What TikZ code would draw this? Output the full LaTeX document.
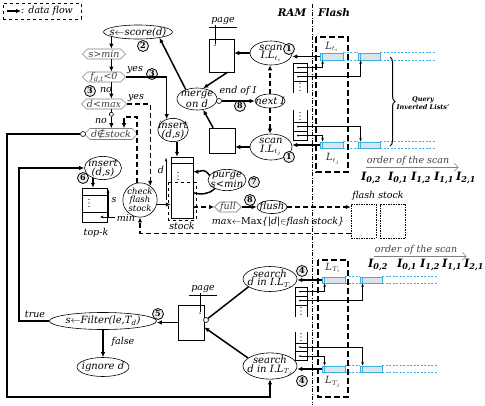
\documentclass[tikz,border=0pt]{standalone}
\usepackage{fontspec}
\setmainfont{DejaVu Serif}
\newfontfamily\symfont{DejaVu Sans}
\usetikzlibrary{arrows.meta,shapes.geometric,shapes.symbols,calc,decorations.pathreplacing}
\definecolor{qcyan}{RGB}{60,175,225}
\definecolor{qfill}{RGB}{218,228,234}
\begin{document}
\begin{tikzpicture}[x=1pt,y=-1pt,
  every node/.style={font=\itshape\fontsize{10}{8.5}\selectfont, inner sep=0pt},
  ell/.style={ellipse, draw, line width=0.6pt, align=center, inner xsep=-4pt, inner ysep=-0.5pt},
  hexa/.style={signal, signal to=west and east, draw=gray, line width=0.6pt, minimum height=10pt, text=black!75, inner xsep=0.5pt, font=\itshape\fontsize{9.5}{9.5}\selectfont},
  num/.style={circle, draw, line width=0.8pt, fill=gray!15, minimum size=11pt, font=\bfseries\fontsize{8}{8}\selectfont},
  box/.style={rectangle, draw, line width=0.5pt},
  flow/.style={line width=1.5pt, -{Latex[length=5pt,width=4.5pt]}},
  bare/.style={line width=1.5pt},
  dflow/.style={flow, dash pattern=on 5pt off 3pt},
  ptr/.style={line width=0.5pt, -{Stealth[length=3.5pt,width=2.5pt]}},
  dot/.style={circle, fill, minimum size=2pt},
  vd/.style={circle, fill, minimum size=1.3pt},
  jn/.style={circle, draw, fill=white, line width=0.6pt, minimum size=5pt},
  bar/.style={rectangle, draw=qcyan, fill=qfill, line width=0.8pt},
  qline/.style={qcyan, line width=0.6pt, dash pattern=on 2pt off 1.5pt},
  qtick/.style={qcyan, line width=0.6pt},
  fbox/.style={draw, line width=1.8pt, dash pattern=on 6pt off 3pt},
  lbl/.style={font=\itshape\fontsize{9.5}{9.5}\selectfont},
  Lbl/.style={font=\itshape\fontsize{10}{10}\selectfont, text=black!80},
  Ibl/.style={font=\bfseries\itshape\fontsize{11.5}{11.5}\selectfont},
  fstock/.style={draw, line width=0.5pt, dash pattern=on 1.5pt off 1pt, minimum width=25pt, minimum height=34pt},
  thinl/.style={line width=0.5pt},
]
\useasboundingbox (0,0) rectangle (485,405);

% legend
\node[draw, dashed, line width=0.6pt, minimum width=78pt, minimum height=16pt] (legend) at (42,11) {};
\coordinate (lga) at (7,11);
\coordinate (lgb) at (21,11);
\draw[flow] (lga) -- (lgb);
\node[anchor=west, font=\itshape\fontsize{9.5}{9.5}\selectfont] (lgt) at (21,11) {: data flow};

% RAM / Flash divider
\coordinate (divt) at (312,4);
\coordinate (divb) at (312,405);
\draw[line width=0.6pt, dash pattern=on 4pt off 1.5pt on 1pt off 1.5pt] (divt) -- (divb);
\node[font=\bfseries\itshape\fontsize{10.5}{10.5}\selectfont] (ram) at (292,13) {RAM};
\node[font=\bfseries\itshape\fontsize{10.5}{10.5}\selectfont] (flash) at (334,13) {Flash};

% ---------- scoring chain ----------
\node[ell, minimum width=61pt, minimum height=14pt] (score) at (138,32) {s$\leftarrow$score(d)};
\node[num] (n2) at (143,46) {2};
\node[hexa, minimum width=43pt] (smin) at (104,54) {s>min};
\node[hexa, minimum width=43pt] (fdt) at (104,77) {f\textsubscript{d,t}<0};
\node[hexa, minimum width=43pt] (dmax) at (104,104) {d<max};
\node[hexa, minimum width=53pt, minimum height=11pt] (dstock) at (111,134) {d{\symfont\upshape ∉}stock};
\node[jn] (dsc) at (83,134) {};
\node[lbl] (yes1) at (135,70) {yes};
\node[num] (n3a) at (152,74) {3};
\node[num] (n3b) at (90,91) {3};
\node[lbl] (no1) at (106,90) {no};
\node[lbl] (yes2) at (136,98) {yes};
\node[lbl] (no2) at (101,121) {no};

\node[ell, minimum width=29pt, minimum height=22pt] (insert1) at (173,130) {insert\\(d,s)};
\node[ell, minimum width=37pt, minimum height=23pt] (insert2) at (103,168) {insert\\(d,s)};
\node[num] (n6) at (83,178) {6};
\node[box, minimum width=25pt, minimum height=34pt] (topk) at (94.5,205) {};
\node[lbl] (topkl) at (96,233) {top-k};
\node[lbl] (sl) at (114,200) {s};
\node[lbl] (minl) at (126,218) {min};

\node[circle, draw, line width=0.6pt, minimum size=34pt, align=center, font=\itshape\fontsize{8.5}{7.5}\selectfont] (check) at (140,200) {check\\flash\\stock};
\node[box, minimum width=22pt, minimum height=61pt] (stock) at (182,187.5) {};
\node[lbl] (stockl) at (182,226) {stock};
\node[lbl] (dl) at (161,170) {d};

\node[ell, minimum width=38pt, minimum height=20pt] (purge) at (227,180) {purge\\s<min};
\node[num] (n7) at (254,182) {7};
\node[hexa, minimum width=25pt, minimum height=10pt] (full) at (228,207) {full};
\node[num] (n8b) at (250,200) {8};
\node[ell, minimum width=30pt, minimum height=13pt] (flush) at (272,207) {flush};
\node[fstock] (fs1) at (363.5,221) {};
\node[fstock] (fs2) at (393,221) {};
\node[lbl] (fsl) at (378,196) {flash stock};
\node[lbl] (maxl) at (278,222) {max$\leftarrow$\textup{Max}\{|d|$\in$flash stock\}};

% ---------- scan / merge ----------
\node[box, minimum width=25pt, minimum height=33pt] (page1) at (221.5,55.5) {};
\node[lbl] (pg1) at (223,21) {page};
\node[dot, minimum size=1.5pt] (pg1d) at (215,45) {};
\node[ell, minimum width=42pt, minimum height=24pt] (scan1) at (271,53) {scan\\I.L$_{t_i}$};
\node[num] (n1a) at (289,49) {1};
\node[ell, minimum width=40pt, minimum height=22pt] (merge) at (197,99) {merge\\on d};
\node[jn] (mc) at (219,101) {};
\node[lbl] (eoi) at (238,91) {end of I};
\node[num] (n8a) at (240,106) {8};
\node[ell, minimum width=30pt, minimum height=14pt] (next) at (270,101) {next I};
\node[ell, minimum width=42pt, minimum height=26pt] (scan2) at (271,147) {scan\\I.L$_{t_j}$};
\node[num] (n1b) at (289,157) {1};
\node[box, minimum width=26pt, minimum height=25pt] (page2) at (222,140.5) {};

% flash lists (top)
\node[bar, minimum width=23pt, minimum height=7pt] (b1a) at (331.5,56.5) {};
\node[bar, minimum width=22pt, minimum height=7pt] (b1b) at (369,56.5) {};
\node[bar, minimum width=23pt, minimum height=6pt] (b2a) at (331.5,145) {};
\node[bar, minimum width=22pt, minimum height=6pt] (b2b) at (369,145) {};
\node[Lbl] (lti) at (332,47) {L$_{t_i}$};
\node[Lbl] (ltj) at (333,159) {L$_{t_j}$};
\node[font=\bfseries\itshape\fontsize{6.5}{8}\selectfont, align=center] (qil) at (423,103) {Query\\Inverted Lists'};

% pointer arrays (top)
\node[dot] (p1a) at (298,67.5) {};
\node[dot] (p1b) at (298,76.5) {};
\node[dot] (p2a) at (298,126.5) {};
\node[dot] (p2b) at (298,135.5) {};

% scan order labels
\node[lbl, text=black!75] (ord1) at (408,161) {order of the scan};
\node[Ibl] (i1a) at (371,178) {I\textsubscript{0,2}};
\node[Ibl] (i1b) at (398,178) {I\textsubscript{0,1}};
\node[Ibl] (i1c) at (421,178) {I\textsubscript{1,2}};
\node[Ibl] (i1d) at (444,178) {I\textsubscript{1,1}};
\node[Ibl] (i1e) at (466,178) {I\textsubscript{2,1}};
\node[lbl, text=black!75] (ord2) at (416,250) {order of the scan};
\node[Ibl] (i2a) at (378,265) {I\textsubscript{0,2}};
\node[Ibl] (i2b) at (407,265) {I\textsubscript{0,1}};
\node[Ibl] (i2c) at (430,265) {I\textsubscript{1,2}};
\node[Ibl] (i2d) at (452,265) {I\textsubscript{1,1}};
\node[Ibl] (i2e) at (474,265) {I\textsubscript{2,1}};

% ---------- filtering ----------
\node[ell, minimum width=54pt, minimum height=25pt] (search1) at (270,279) {search\\d in I.L$_{T_i}$};
\node[num] (n4a) at (302,271) {4};
\node[ell, minimum width=54pt, minimum height=25pt] (search2) at (270,366) {search\\d in I.L$_{T_j}$};
\node[num] (n4b) at (302,381) {4};
\node[box, minimum width=26pt, minimum height=35pt] (page3) at (191,322.5) {};
\node[lbl] (pg3) at (203,289) {page};
\node[dot, minimum size=1.5pt] (pg3d) at (200,313) {};
\node[jn] (pc) at (206,320) {};
\node[ell, minimum width=107pt, minimum height=17pt] (filter) at (103,321) {s$\leftarrow$Filter(le,T\textsubscript{d})};
\node[num] (n5) at (158,314) {5};
\node[lbl] (truel) at (35,314) {true};
\node[lbl] (falsel) at (123,342) {false};
\node[ell, minimum width=52pt, minimum height=19pt] (ignore) at (103,367) {ignore d};

\node[bar, minimum width=23pt, minimum height=6pt] (b3a) at (333.5,280) {};
\node[bar, minimum width=22pt, minimum height=6pt] (b3b) at (371,280) {};
\node[bar, minimum width=23pt, minimum height=6pt] (b4a) at (333.5,369) {};
\node[bar, minimum width=22pt, minimum height=6pt] (b4b) at (371,369) {};
\node[Lbl] (lTi) at (333,268) {L$_{T_i}$};
\node[Lbl] (lTj) at (333,382) {L$_{T_j}$};
\node[dot] (p3a) at (300,291.5) {};
\node[dot] (p3b) at (300,300.5) {};
\node[dot] (p4a) at (300,347) {};
\node[dot] (p4b) at (300,356) {};

% vertical ellipsis marks in the arrays
\foreach \x/\y in {89/203,178/176,300/87,300/116,301/311,301/337}{
  \node[vd] at (\x,\y-3.5) {};
  \node[vd] at (\x,\y) {};
  \node[vd] at (\x,\y+3.5) {};
}

% ================= connectors =================
% scoring spine
\coordinate (spine) at (score.190);
\node[jn, minimum size=4pt] (dmj) at ($(spine |- dmax.south)+(0,5)$) {};
\draw[flow] (spine) -- (spine |- smin.north);
\draw[flow] (spine |- smin.south) -- (spine |- fdt.north);
\draw[flow] (spine |- fdt.south) -- (spine |- dmax.north);
\draw[bare] (spine |- dmax.south) -- (dmj);
\draw[flow] (dmj) -- (spine |- dstock.north);
\draw[flow] (fdt.east) -| (insert1.120);
\draw[dflow] (dmax.east) -| (check.54);
\coordinate (dsret) at (124,117);
\draw[dflow] (check.100) |- (dsret) -- (dsret |- dstock.north);

% loops round the left edge
\coordinate (loopA) at (7,397);
\draw[flow] (dsc.west) -| (loopA) -| (search2.south);
\coordinate (loopB) at (19,168);
\draw[flow] (filter.west) -| (loopB) -- (insert2.west);

% top-k
\draw[flow] (insert2.225) -- (insert2.225 |- topk.north);
\draw[thinl] ($(topk.north west)+(0,7)$) -- ($(topk.north east)+(0,7)$);
\draw[thinl] ($(topk.north west)+(0,24)$) -- ($(topk.north east)+(0,24)$);
\coordinate (sa0) at (108,217);
\coordinate (sa1) at (108,189);
\draw[ptr] (sa0) -- (sa1);
\coordinate (ma0) at (115,217);
\coordinate (ma1) at (100,217);
\draw[ptr] (ma0) -- (ma1);

% stock
\coordinate (ins1x) at (177,0);
\draw[flow] (ins1x |- insert1.south) -- (ins1x |- stock.north);
\draw[flow] (check.-15) -- (check.-15 -| stock.west);
\draw[thinl] ($(stock.north west)+(0,6)$) -- ($(stock.north east)+(0,6)$);
\draw[thinl, dashed] ($(stock.north west)+(-2.5,25.5)$) rectangle ($(stock.south east)+(2.5,1.5)$);
\coordinate (da0) at (166,200);
\coordinate (da1) at (166,158);
\draw[ptr] (da0) -- (da1);
\coordinate (stkin) at ($(stock.north east)+(0,15)$);
\coordinate (stkout) at ($(stock.north east)+(0,36)$);
\draw[flow] (purge.165) .. controls +(-6,-8) and +(8,0) .. (stkin);
\draw[bare] (stkout) .. controls +(8,2) and +(-6,6) .. (purge.215);
\draw[dflow] (full.west -| stock.east) -- (full.west);
\draw[flow] (full.east) -- (flush.west);
\draw[dflow] (flush.east) -- (flush.east -| fs1.west);
\coordinate (fbs) at ($(fs1.south west)+(0,-5)$);
\draw[dflow] (fbs) -| (check.south);

% scan and merge
\draw[thinl] ($(pg1.south west)+(-2,2)$) -- ($(pg1.south east)+(2,2)$);
\draw[thinl] (pg1d) -- (pg1d |- pg1.south);
\draw[flow] (scan1.west) -- (scan1.west -| page1.east);
\draw[flow] (scan2.west) -- (scan2.west -| page2.east);
\draw[flow] (page1.-70) -- (merge.60);
\draw[flow] (page2.125) -- (merge.-60);
\draw[flow] (merge.140) -- (score.-15);
\draw[flow] (mc) -- (next.west |- mc);
\draw[dflow] (next.north) -- (next.north |- scan1.south);
\draw[dflow] (next.south) -- (next.south |- scan2.north);
\draw[flow] (b1a.west) -- (b1a.west -| scan1.east);
\draw[flow] (b2a.west) -- (b2a.west -| scan2.east);

% pointer arrays (top)
\draw[thinl] (293,93) -- (293,63) -- (307,63) -- (307,93);
\draw[thinl] (293,72) -- (307,72) (293,81) -- (307,81);
\draw[thinl] (293,110) -- (293,140) -- (307,140) -- (307,110);
\draw[thinl] (293,122) -- (307,122) (293,131) -- (307,131);
\draw[ptr] (p1a) -| ($(b1a.south west)+(3,0)$);
\draw[ptr] (p1b) -| ($(b1b.south west)+(3,0)$);
\draw[ptr] (p2a) -| ($(b2b.north west)+(3,0)$);
\draw[ptr] (p2b) -| ($(b2a.north west)+(3,0)$);

% flash lists
\foreach \a/\b in {b1a/b1b,b2a/b2b,b3a/b3b,b4a/b4b}{
  \draw[qline] (\a.north east) -- (\b.north west) (\a.south east) -- (\b.south west)
               (\b.north east) -- ++(55,0) (\b.south east) -- ++(55,0);
  \draw[qtick] ($(\a.north west)+(3,0)$) -- ($(\a.south west)+(3,0)$);
  \draw[qtick] ($(\b.north west)+(3,0)$) -- ($(\b.south west)+(3,0)$);
}
\draw[fbox] (316,37) rectangle (348,172);
\draw[fbox] (318,260) rectangle (348,397);
\draw[decorate, decoration={brace, amplitude=5pt}, line width=1pt] (390,57) -- (390,146);

% scan order arrows
\draw[gray, line width=0.5pt, -{Straight Barb[length=4pt]}] ($(ord1.south west)+(-1,1.5)$) -- ++(93,0);
\draw[gray, line width=0.5pt, -{Straight Barb[length=4pt]}] ($(ord2.south west)+(-1,1.5)$) -- ++(93,0);

% filtering
\draw[thinl] ($(pg3.south west)+(-2,2)$) -- ($(pg3.south east)+(2,2)$);
\draw[thinl] (pg3d) -- (pg3d |- pg3.south);
\draw[bare] (search1.200) -- (pc);
\draw[flow] (search2.160) -- (page3.-20);
\draw[flow] (page3.west) -- (page3.west -| filter.east);
\draw[flow] (filter.south) -- (ignore.north);
\draw[flow] (b3a.west) -- (b3a.west -| search1.east);
\draw[flow] (b4a.west) -- (b4a.west -| search2.east);
\draw[thinl] (295,317) -- (295,287) -- (307,287) -- (307,317);
\draw[thinl] (295,296) -- (307,296) (295,305) -- (307,305);
\draw[thinl] (295,332) -- (295,360) -- (307,360) -- (307,332);
\draw[thinl] (295,343) -- (307,343) (295,351.5) -- (307,351.5);
\draw[ptr] (p3a) -| ($(b3a.south west)+(3,0)$);
\draw[ptr] (p3b) -| ($(b3b.south west)+(3,0)$);
\draw[ptr] (p4a) -| ($(b4b.north west)+(3,0)$);
\draw[ptr] (p4b) -| ($(b4a.north west)+(3,0)$);
\end{tikzpicture}
\end{document}
